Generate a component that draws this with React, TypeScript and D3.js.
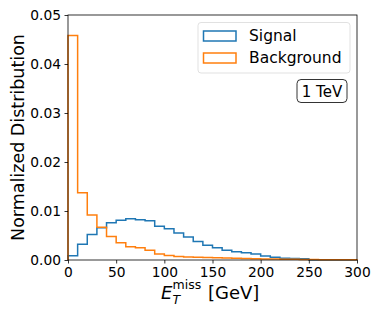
import { useEffect, useRef } from "react";
import * as d3 from "d3";

// bin edges: 0..300 GeV, 10 GeV wide
const binEdges = d3.range(0, 301, 10);
const signal = [
  0.00088, 0.0032, 0.0052, 0.0066, 0.0076, 0.0081, 0.0084, 0.0082, 0.008, 0.0069,
  0.0064, 0.0055, 0.0047, 0.0038, 0.003, 0.0025, 0.002, 0.0017, 0.0015, 0.0012,
  0.0008, 0.00055, 0.00035, 0.0003, 0.00025, 0, 0, 0, 0, 0,
];
const background = [
  0.0458, 0.0137, 0.0092, 0.0067, 0.0048, 0.0035, 0.0027, 0.0025, 0.002, 0.0012,
  0.0009, 0.0007, 0.0006, 0.00055, 0.0005, 0.00045, 0.0004, 0.00035, 0.0003, 0.00026,
  0.00022, 0.00019, 0.00016, 0.00013, 0.00011, 0.00009, 0.00007, 0.00005, 0.00004, 0.00003,
];
const xTicks = [0, 50, 100, 150, 200, 250, 300];
const yTicks = [0, 0.01, 0.02, 0.03, 0.04, 0.05];
const series = [
  { name: "Signal", values: signal, color: "#1f77b4" },
  { name: "Background", values: background, color: "#ff7f0e" },
];

const App = () => {
  const ref = useRef<SVGSVGElement>(null);

  useEffect(() => {
    const svg = d3.select(ref.current);
    svg.selectAll("*").remove();
    const font = "DejaVu Sans";
    const margin = { top: 15, right: 24, bottom: 57, left: 68 };
    const width = 381 - margin.left - margin.right;
    const height = 317 - margin.top - margin.bottom;

    const x = d3.scaleLinear().domain([0, 300]).range([0, width]);
    const y = d3.scaleLinear().domain([0, 0.05]).range([height, 0]);

    const g = svg.append("g").attr("transform", `translate(${margin.left},${margin.top})`);

    const line = d3
      .line<[number, number]>()
      .x((d) => x(d[0]))
      .y((d) => y(d[1]));

    series.forEach((s) => {
      const pts: [number, number][] = [[binEdges[0], 0]];
      s.values.forEach((v, i) => {
        pts.push([binEdges[i], v]);
        pts.push([binEdges[i + 1], v]);
      });
      pts.push([binEdges[binEdges.length - 1], 0]);
      g.append("path")
        .attr("d", line(pts))
        .attr("fill", "none")
        .attr("stroke", s.color)
        .attr("stroke-width", 1.5);
    });

    // axes
    const xAxis = g
      .append("g")
      .attr("transform", `translate(0,${height})`)
      .call(d3.axisBottom(x).tickValues(xTicks).tickSize(3.5).tickPadding(3.5).tickFormat(d3.format("d")));
    const yAxis = g
      .append("g")
      .call(d3.axisLeft(y).tickValues(yTicks).tickSize(3.5).tickPadding(3.5).tickFormat(d3.format(".2f")));
    [xAxis, yAxis].forEach((a) => {
      a.select(".domain").remove();
      a.selectAll("line").attr("stroke", "#000").attr("stroke-width", 0.8);
      a.selectAll("text").attr("font-family", font).attr("font-size", 13.8).attr("fill", "#000");
    });

    g.append("rect")
      .attr("width", width)
      .attr("height", height)
      .attr("fill", "none")
      .attr("stroke", "#000")
      .attr("stroke-width", 0.8);

    // legend
    const lg = svg.append("g");
    lg.append("rect")
      .attr("x", 198)
      .attr("y", 22.5)
      .attr("width", 152)
      .attr("height", 50.5)
      .attr("rx", 3)
      .attr("fill", "#fff")
      .attr("fill-opacity", 0.8)
      .attr("stroke", "#d9d9d9")
      .attr("stroke-width", 0.8);
    series.forEach((s, i) => {
      const yy = 31 + i * 22;
      lg.append("rect")
        .attr("x", 203.5)
        .attr("y", yy)
        .attr("width", 32.5)
        .attr("height", 10)
        .attr("fill", "none")
        .attr("stroke", s.color)
        .attr("stroke-width", 1.5);
      lg.append("text")
        .attr("x", 249)
        .attr("y", yy + 10)
        .attr("font-family", font)
        .attr("font-size", 15.5)
        .text(s.name);
    });

    // energy box
    svg
      .append("rect")
      .attr("x", 297)
      .attr("y", 79.5)
      .attr("width", 50)
      .attr("height", 23)
      .attr("rx", 4)
      .attr("fill", "#fff")
      .attr("stroke", "#000")
      .attr("stroke-width", 0.8);
    svg
      .append("text")
      .attr("x", 322)
      .attr("y", 96.5)
      .attr("text-anchor", "middle")
      .attr("font-family", font)
      .attr("font-size", 15)
      .text("1 TeV");

    // y label
    svg
      .append("text")
      .attr("transform", `translate(24,${margin.top + height / 2}) rotate(-90)`)
      .attr("text-anchor", "middle")
      .attr("font-family", font)
      .attr("font-size", 17.5)
      .text("Normalized Distribution");

    // x label
    const xl = svg
      .append("text")
      .attr("x", 161)
      .attr("y", 298.5)
      .attr("font-family", font)
      .attr("font-size", 18);
    xl.append("tspan").attr("font-style", "italic").text("E");
    xl.append("tspan").attr("font-style", "italic").attr("font-size", 12.5).attr("dy", 5).text("T");
    xl.append("tspan").attr("font-size", 12.5).attr("dx", -7.5).attr("dy", -15).text("miss");
    xl.append("tspan").attr("dy", 10).attr("dx", 1).text(" [GeV]");
  }, []);

  return (
    <svg
      ref={ref}
      width={381}
      height={317}
      style={{ position: "absolute", left: 0, top: 0, background: "#fff" }}
    />
  );
};

export default App;
